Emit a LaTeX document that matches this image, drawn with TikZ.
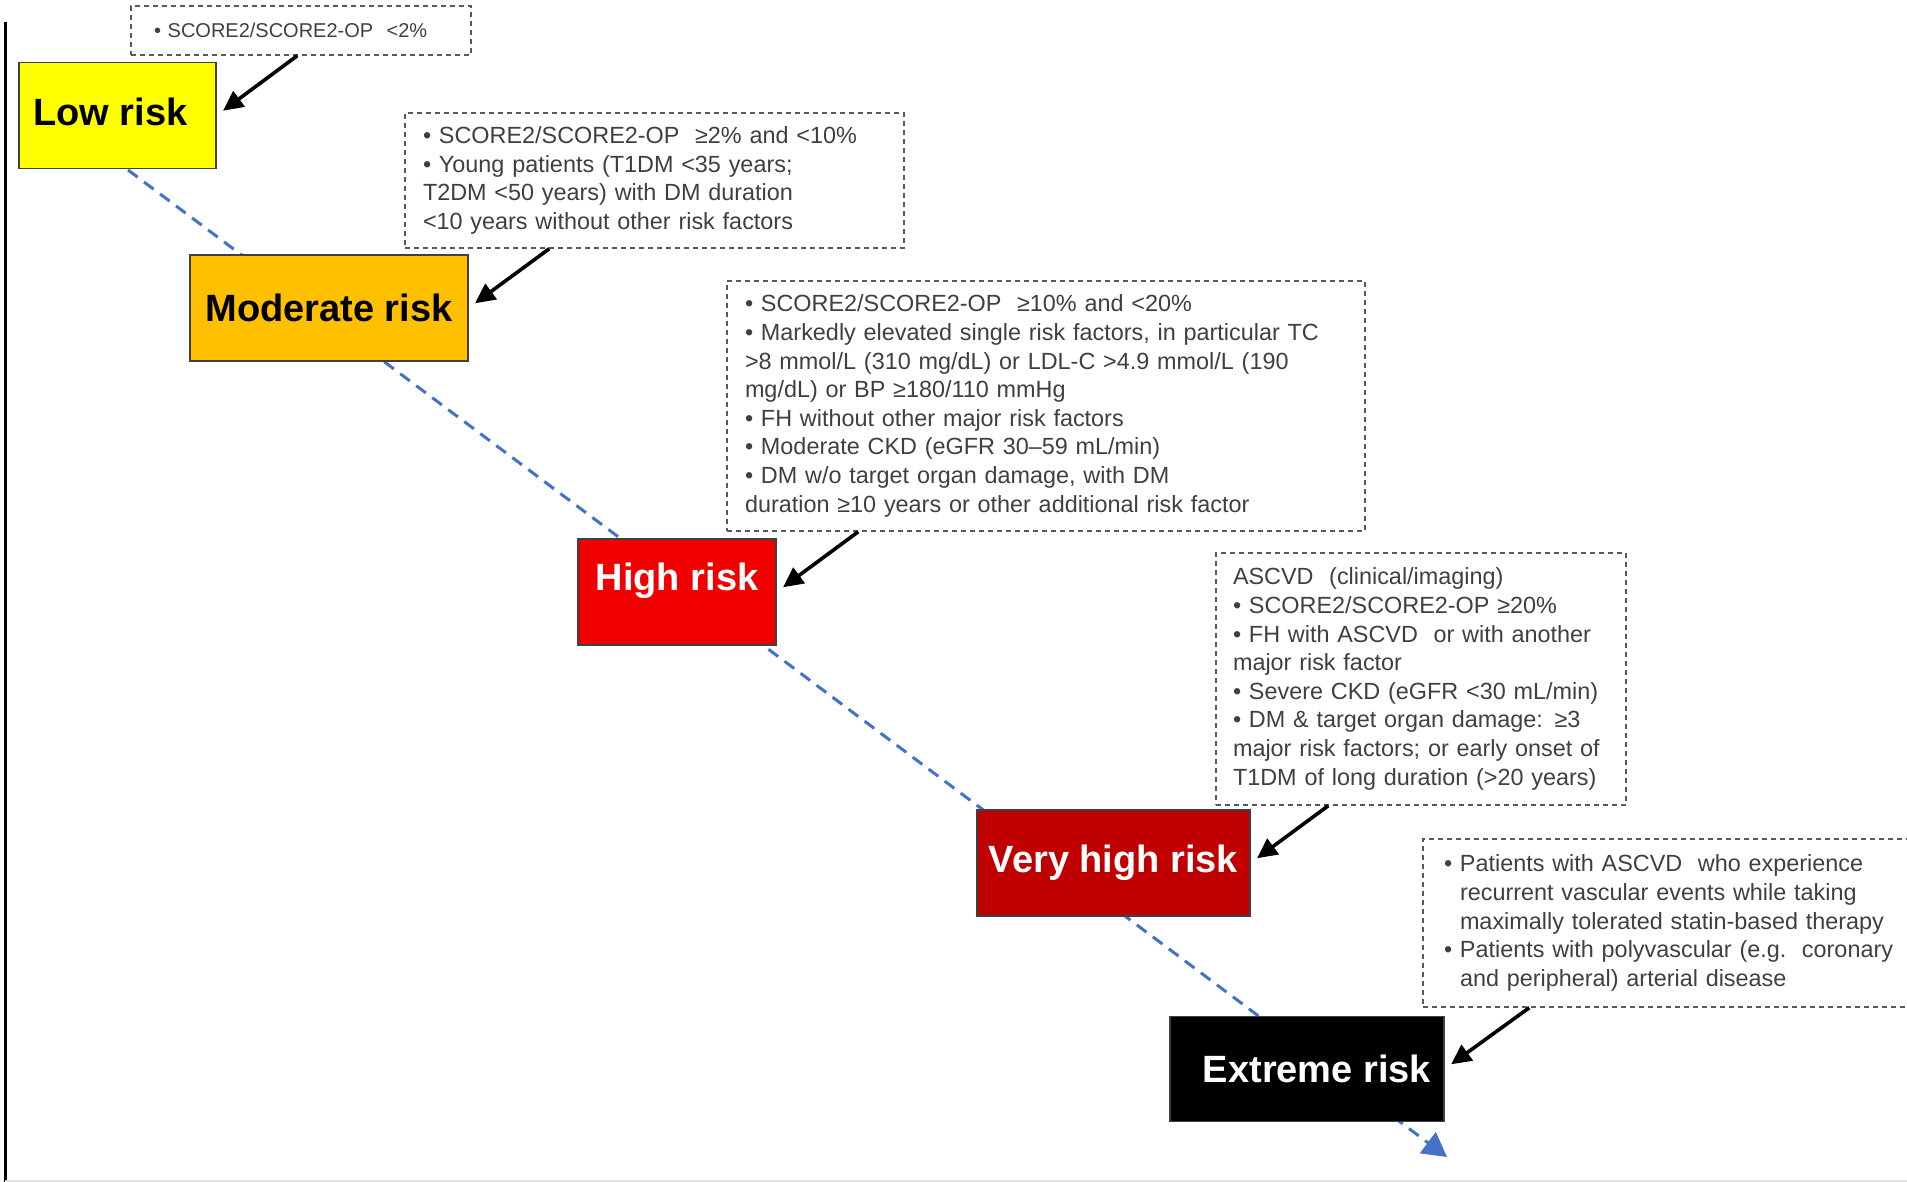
\documentclass[tikz,border=0pt]{standalone}
\usepackage{fontspec}
\setmainfont{Liberation Sans}
\usetikzlibrary{arrows.meta}

\definecolor{lowC}{HTML}{FFFF00}
\definecolor{modC}{HTML}{FFC000}
\definecolor{highC}{HTML}{F00000}
\definecolor{vhighC}{HTML}{C00000}
\definecolor{txtC}{HTML}{3F3F3F}
\definecolor{lineC}{HTML}{4472C4}

\tikzstyle{rS}=[draw=black!75, line width=0.6pt, minimum height=53pt, inner sep=0pt, font=\fontsize{19}{22}\selectfont\bfseries]
\tikzstyle{dS}=[draw=black!65, dash pattern=on 2.5pt off 2pt, line width=0.7pt, inner xsep=9pt, inner ysep=0pt, align=left, text=txtC, font=\fontsize{11.7}{14.3}\selectfont]
\tikzstyle{aS}=[-{Triangle[length=10pt,width=9.5pt]}, line width=1.8pt, shorten >=4pt]
\tikzstyle{bS}=[draw=lineC, dash pattern=on 6pt off 4pt, line width=1.5pt, -{Triangle[length=12pt,width=13pt]}]

\begin{document}
\begin{tikzpicture}[x=0.5pt,y=-0.5pt]
    \useasboundingbox (0,0) rectangle (1907,1182);
    % frame lines
    \draw[line width=1.5pt] (5,22) -- (5,1182);
    \draw[line width=1pt, black!12] (5,1180.5) -- (1907,1180.5);
    % dashed blue trend line
    \coordinate (lineStart) at (128,170);
    \coordinate (lineEnd) at (1447,1157);
    \draw[bS] (lineStart) -- (lineEnd);
    % risk categories
    \draw (117.5,115.5) node[rS, fill=lowC, minimum width=98.5pt] (low) {\hspace*{-7pt}\raisebox{2pt}[\height][\depth]{Low risk}};
    \draw (329,308) node[rS, fill=modC, minimum width=139pt] (moderate) {Moderate risk};
    \draw (677,592) node[rS, fill=highC, text=white, minimum width=99pt] (high) {\raisebox{5.5pt}[\height][\depth]{High risk}};
    \draw (1113.5,863) node[rS, fill=vhighC, text=white, minimum width=136.5pt] (veryhigh) {Very high risk};
    \draw (1307,1069) node[rS, fill=black, text=white, minimum width=137pt, minimum height=52.5pt] (extreme) {\hspace*{10pt}Extreme risk};
    % criteria
    \draw (301,30.5) node[dS, inner xsep=11.5pt, text width=147pt, minimum height=24.5pt, font=\fontsize{10}{12}\selectfont] (crit0) {• SCORE2/SCORE2-OP\ \ <2\%};
    \draw (654.5,180.5) node[dS, text width=231.5pt, minimum height=67.5pt] (crit1) {• SCORE2/SCORE2-OP\ \ ≥2\% and <10\%\\
        • Young patients (T1DM <35 years;\\
        T2DM <50 years) with DM duration\\
        <10 years without other risk factors};
    \draw (1046,406) node[dS, text width=301pt, minimum height=125pt] (crit2) {• SCORE2/SCORE2-OP\ \ ≥10\% and <20\%\\
        • Markedly elevated single risk factors, in particular TC\\
        >8 mmol/L (310 mg/dL) or LDL-C >4.9 mmol/L (190\\
        mg/dL) or BP ≥180/110 mmHg\\
        • FH without other major risk factors\\
        • Moderate CKD (eGFR 30–59 mL/min)\\
        • DM w/o target organ damage, with DM\\
        duration ≥10 years or other additional risk factor};
    \draw (1421,679) node[dS, inner xsep=8.5pt, text width=188pt, minimum height=126pt] (crit3) {ASCVD\ \ (clinical/imaging)\\
        • SCORE2/SCORE2-OP ≥20\%\\
        • FH with ASCVD\ \ or with another\\
        major risk factor\\
        • Severe CKD (eGFR <30 mL/min)\\
        • DM \& target organ damage: ≥3\\
        major risk factors; or early onset of\\
        T1DM of long duration (>20 years)};
    \draw (1683,923) node[dS, inner xsep=10.5pt, text width=239pt, minimum height=84pt] (crit4) {• Patients with ASCVD\ \ who experience\\
        \phantom{• }recurrent vascular events while taking\\
        \phantom{• }maximally tolerated statin-based therapy\\
        • Patients with polyvascular (e.g.\ \ coronary\\
        \phantom{• }and peripheral) arterial disease};
    \path
        ([xshift=83.5pt]crit0.south west) edge[aS] (low.east)
        ([xshift=72.5pt]crit1.south west) edge[aS] (moderate.east)
        ([xshift=66pt]crit2.south west) edge[aS] (high.east)
        ([xshift=56.5pt]crit3.south west) edge[aS] (veryhigh.east)
        ([xshift=53.5pt]crit4.south west) edge[aS] (extreme.east)
    ;
\end{tikzpicture}
\end{document}
